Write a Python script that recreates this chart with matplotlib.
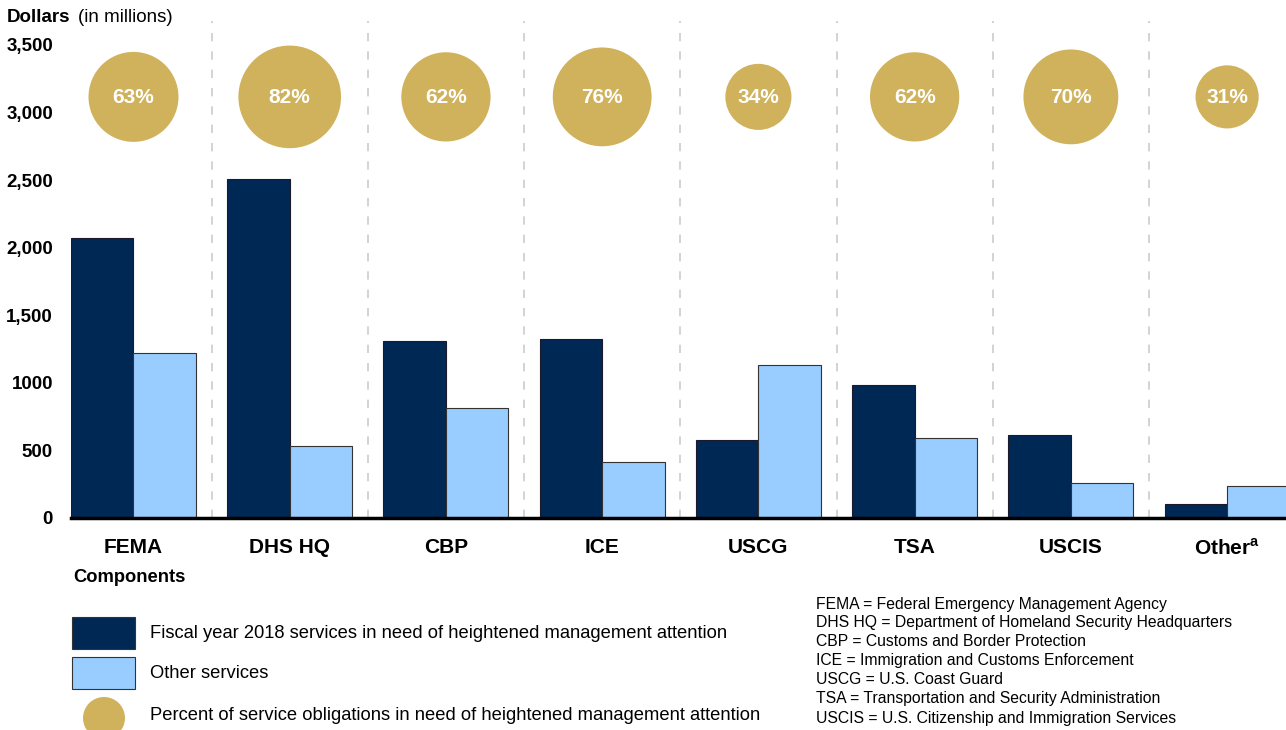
import numpy as np
import matplotlib
matplotlib.use("Agg")
import matplotlib.pyplot as plt
from matplotlib.patches import Rectangle, Circle

plt.rcParams['font.family'] = ['Liberation Sans', 'DejaVu Sans']
plt.rcParams['mathtext.fontset'] = 'custom'
plt.rcParams['mathtext.rm'] = 'Liberation Sans'
plt.rcParams['mathtext.bf'] = 'Liberation Sans:bold'

# DADOS (em milhões de dólares)
componentes = ['FEMA', 'DHS HQ', 'CBP', 'ICE', 'USCG', 'TSA', 'USCIS', r'Other$^{\mathbf{a}}$']
atencao = [2070, 2510, 1310, 1325, 578, 984, 615, 105]
outros = [1220, 533, 815, 415, 1132, 592, 260, 237]
percentuais = [63, 82, 62, 76, 34, 62, 70, 31]

yticks = [0, 500, 1000, 1500, 2000, 2500, 3000, 3500]
ytick_labels = ['0', '500', '1000', '1,500', '2,000', '2,500', '3,000', '3,500']

siglas = [
    'FEMA = Federal Emergency Management Agency',
    'DHS HQ = Department of Homeland Security Headquarters',
    'CBP = Customs and Border Protection',
    'ICE = Immigration and Customs Enforcement',
    'USCG = U.S. Coast Guard',
    'TSA = Transportation and Security Administration',
    'USCIS = U.S. Citizenship and Immigration Services',
]

AZUL_ESCURO = '#002855'
AZUL_CLARO = '#99CCFF'
DOURADO = '#CFB25B'

fig = plt.figure(figsize=(12.86, 7.30), dpi=100)
ax = fig.add_axes([71 / 1286, 1 - 518 / 730, 1 - 71 / 1286, (518 - 20.5) / 730])

x = np.arange(len(componentes))
largura = 0.4

ax.bar(x - largura / 2, atencao, width=largura, color=AZUL_ESCURO, edgecolor='#1a1a2a', linewidth=0.8, zorder=3)
ax.bar(x + largura / 2, outros, width=largura, color=AZUL_CLARO, edgecolor='#333333', linewidth=0.8, zorder=3)

# CIRCULOS COM AREA PROPORCIONAL AO PERCENTUAL
ax.scatter(x, [3115] * len(x), s=[66.6 * p for p in percentuais], color=DOURADO, edgecolor='none', zorder=4, clip_on=False)
for xi, p in zip(x, percentuais):
    ax.text(xi, 3112, f'{p}%', color='white', fontsize=15, fontweight='bold', ha='center', va='center', zorder=5)

# LINHAS DIVISORIAS TRACEJADAS
for xi in x[:-1]:
    ax.axvline(xi + 0.5, color='#CCCCCC', linewidth=1.2, linestyle=(0, (5, 6)), zorder=1)

ax.set_xlim(-0.4, 7.377)
ax.set_ylim(0, 3680)
ax.set_xticks(x)
ax.set_xticklabels(componentes, fontsize=15, fontweight='bold')
ax.set_yticks(yticks)
ax.set_yticklabels(ytick_labels, fontsize=13.5, fontweight='bold')
ax.tick_params(axis='x', length=0, pad=14.5)
ax.tick_params(axis='y', length=0, pad=13)

for lado in ['left', 'top', 'right']:
    ax.spines[lado].set_visible(False)
ax.spines['bottom'].set_linewidth(2.5)
ax.spines['bottom'].set_color('black')
ax.spines['bottom'].set_zorder(6)

# TITULO DO EIXO Y
fig.text(7 / 1286, 1 - 17 / 730, 'Dollars', fontsize=13.5, fontweight='bold', ha='left', va='center')
fig.text(78 / 1286, 1 - 17 / 730, '(in millions)', fontsize=13.5, ha='left', va='center')

# LEGENDA E NOTAS (em pixels da figura)
leg = fig.add_axes([0, 0, 1, 1], zorder=-1)
leg.set_xlim(0, 1286)
leg.set_ylim(730, 0)
leg.axis('off')

leg.text(73, 578, 'Components', fontsize=13.2, fontweight='bold', ha='left', va='center')
leg.add_patch(Rectangle((72, 617), 63, 32, facecolor=AZUL_ESCURO, edgecolor='#333333', linewidth=0.8))
leg.add_patch(Rectangle((72, 657), 63, 32, facecolor=AZUL_CLARO, edgecolor='#333333', linewidth=0.8))
leg.add_patch(Circle((104, 718), 21, facecolor=DOURADO, edgecolor='none'))
leg.text(150, 634, 'Fiscal year 2018 services in need of heightened management attention', fontsize=13.2, ha='left', va='center')
leg.text(150, 674, 'Other services', fontsize=13.2, ha='left', va='center')
leg.text(150, 716, 'Percent of service obligations in need of heightened management attention', fontsize=13.2, ha='left', va='center')

for i, s in enumerate(siglas):
    leg.text(816, 604 + i * 19, s, fontsize=11.35, ha='left', va='center')

fig.savefig('out.png', dpi=100)
